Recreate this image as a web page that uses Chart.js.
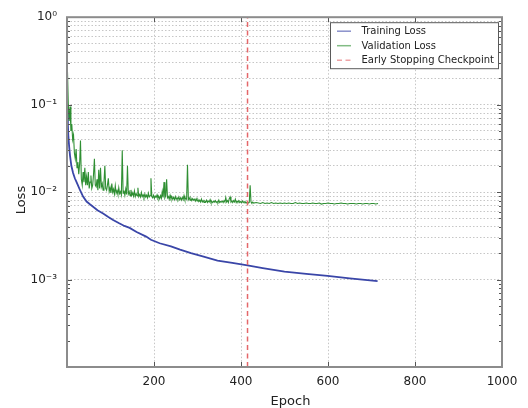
<!DOCTYPE html>
<html>
<head>
<meta charset="utf-8">
<script src="https://cdn.jsdelivr.net/npm/chart.js@4/dist/chart.umd.min.js"></script>
<style>
html,body{margin:0;padding:0;background:#fff;}
#wrap{width:528px;height:408px;}
</style>
</head>
<body>
<div id="wrap"><canvas id="c" width="528" height="408"></canvas></div>
<script>
// ---- data ----
const seriesNames = ['Training Loss', 'Validation Loss', 'Early Stopping Checkpoint'];

const trainEpochs = [1,2,3,5,7,10,14,18,22,25,30,37,45,52,60,70,83,95,106,120,132,144,160,182,193,213,239,260,285,310,346,380,415,450,500,550,599,650,714];
const trainLoss = [0.085,0.06,0.045,0.033,0.026,0.020,0.0165,0.0144,0.013,0.012,0.0105,0.0089,0.0078,0.0073,0.0068,0.0062,0.0057,0.0052,0.0048,0.0044,0.0041,0.0039,0.0035,0.0031,0.00285,0.0026,0.0024,0.0022,0.0020,0.00185,0.00165,0.00155,0.00145,0.00135,0.00123,0.00116,0.0011,0.00103,0.00096];

const valEpochs = [
1,3,5,7,9,11,13,15,17,19,21,23,25,27,29,31,33,35,37,39,41,43,45,47,49,51,53,55,57,59,61,63,65,67,69,71,73,75,77,79,81,83,85,87,89,91,93,95,97,99,
101,103,105,107,109,111,113,115,117,119,121,123,125,127,129,131,133,135,137,139,141,143,145,147,149,151,153,155,157,159,161,163,165,167,169,171,173,175,177,179,181,183,185,187,189,191,193,195,197,199,
201,203,205,207,209,211,213,215,217,219,221,223,225,227,229,231,233,235,237,239,241,243,245,247,249,251,253,255,257,259,261,263,265,267,269,271,273,275,277,279,281,283,285,287,289,291,293,295,297,299,
301,303,305,307,309,311,313,315,317,319,321,323,325,327,329,331,333,335,337,339,341,343,345,347,349,351,353,355,357,359,361,363,365,367,369,371,373,375,377,379,381,383,385,387,389,391,393,395,397,399,
401,403,405,407,409,411,413,415,417,419,421,423,425,427,429,
435,440,445,450,455,460,465,470,475,480,485,490,495,500,505,510,515,520,525,530,535,540,545,550,555,560,565,570,575,580,585,590,595,600,605,610,615,620,625,630,635,640,645,650,655,660,665,670,675,680,685,690,695,700,705,710,715];
const valLoss = [
0.25,0.10,0.065,0.095,0.05,0.06,0.04,0.045,0.028,0.024,0.031,0.019,0.022,0.016,0.021,0.039,0.014,0.012,0.017,0.013,0.019,0.012,0.015,0.012,0.017,0.011,0.013,0.0155,0.011,0.012,0.016,0.024,0.012,0.0115,0.014,0.0105,0.018,0.011,0.019,0.0115,0.0125,0.0105,0.013,0.020,0.011,0.0105,0.012,0.0144,0.0102,0.0112,
0.0098,0.0125,0.0100,0.0108,0.0095,0.0118,0.0097,0.0104,0.0094,0.0112,0.0096,0.0101,0.0093,0.030,0.0097,0.0104,0.0092,0.0108,0.0094,0.020,0.0095,0.0101,0.0091,0.0106,0.0092,0.0098,0.009,0.0103,0.0089,0.0096,0.0091,0.0112,0.0089,0.0094,0.0088,0.0099,0.0089,0.0093,0.0087,0.0095,0.0088,0.0092,0.0086,0.0097,0.0088,0.0091,0.0144,0.0089,0.0086,0.0092,
0.0085,0.009,0.0087,0.0093,0.0085,0.0089,0.0084,0.0091,0.0085,0.0102,0.0087,0.013,0.0086,0.0091,0.014,0.0086,0.0089,0.0083,0.0092,0.0084,0.0088,0.0083,0.0087,0.0082,0.0089,0.0083,0.0086,0.0082,0.0088,0.0082,0.0086,0.0081,0.0087,0.0082,0.0091,0.0082,0.0085,0.0083,0.0205,0.0082,0.0086,0.0081,0.0085,0.008,0.0084,0.0081,0.0083,0.0079,0.0084,0.0079,
0.0082,0.0078,0.0081,0.0077,0.0083,0.0077,0.008,0.0076,0.0079,0.0077,0.0081,0.0076,0.0079,0.0077,0.0082,0.0076,0.0078,0.0076,0.0079,0.0077,0.0080,0.0076,0.0078,0.0076,0.0081,0.0076,0.0078,0.0077,0.0079,0.0076,0.0080,0.0077,0.0087,0.0077,0.0080,0.0076,0.0084,0.0088,0.0077,0.0079,0.0076,0.0080,0.0077,0.0083,0.0076,0.0079,0.0077,0.0080,0.0076,0.0078,
0.0076,0.0079,0.0076,0.0078,0.0076,0.0077,0.0075,0.0077,0.0075,0.0076,0.0120,0.0077,0.0075,0.0077,0.0075,
0.0076,0.0075,0.0074,0.0076,0.0074,0.0075,0.0074,0.0076,0.0074,0.0075,0.0074,0.0075,0.0074,0.0075,0.0074,0.0075,0.0074,0.0074,0.0076,0.0074,0.0075,0.0074,0.0074,0.0075,0.0074,0.0074,0.0075,0.0074,0.0074,0.0075,0.0073,0.0074,0.0074,0.0075,0.0074,0.0074,0.0073,0.0074,0.0074,0.0075,0.0074,0.0074,0.0073,0.0074,0.0074,0.0074,0.0073,0.0074,0.0074,0.0073,0.0074,0.0074,0.0073,0.0074,0.0074,0.0073,0.0074];

const checkpointEpoch = 415;

const xTickValues = [0,200,400,600,800,1000];
const yDecades = [0.0001,0.001,0.01,0.1,1];
const yMinorMultipliers = [2,3,4,5,6,7,8,9];
const yTickLabels = {'1':'10\u2070','0.1':'10\u207B\u00B9','0.01':'10\u207B\u00B2','0.001':'10\u207B\u00B3'};

const axisTitles = {x:'Epoch', y:'Loss'};

// ---- build chart structures ----
const toPts = (xs, ys) => xs.map((x, i) => ({x: x, y: ys[i]}));
const yTickValues = [];
yDecades.forEach((d, i) => {
  yTickValues.push(d);
  if (i < yDecades.length - 1) yMinorMultipliers.forEach(m => yTickValues.push(+(d * m).toPrecision(3)));
});

const FONT = '"DejaVu Sans", Verdana, sans-serif';
const colTrain = '#3a46a8';
const colVal = '#2f8f33';
const colStop = '#e4676a';

const decor = {
  id: 'decor',
  afterDatasetsDraw(chart) {
    const {ctx, chartArea: a, scales} = chart;
    ctx.save();
    // inner tick marks (matplotlib style)
    ctx.strokeStyle = '#555';
    ctx.lineWidth = 1;
    ctx.beginPath();
    scales.y.ticks.forEach(t => {
      const y = Math.round(scales.y.getPixelForValue(t.value)) + 0.5;
      const len = yDecades.includes(t.value) ? 5 : 3;
      ctx.moveTo(a.left, y); ctx.lineTo(a.left + len, y);
      ctx.moveTo(a.right, y); ctx.lineTo(a.right - len, y);
    });
    scales.x.ticks.forEach(t => {
      const x = Math.round(scales.x.getPixelForValue(t.value)) + 0.5;
      ctx.moveTo(x, a.bottom); ctx.lineTo(x, a.bottom - 5);
      ctx.moveTo(x, a.top); ctx.lineTo(x, a.top + 5);
    });
    ctx.stroke();
    // frame
    ctx.strokeStyle = '#8c8c8c';
    ctx.lineWidth = 2;
    ctx.strokeRect(a.left, a.top, a.right - a.left, a.bottom - a.top);

    // legend inside the plot, top right
    const bw = 168, bh = 46;
    const bx = a.right - 4 - bw, by = a.top + 5;
    ctx.fillStyle = '#ffffff';
    ctx.fillRect(bx, by, bw, bh);
    ctx.strokeStyle = '#5a5a5a';
    ctx.lineWidth = 1;
    ctx.strokeRect(bx + 0.5, by + 0.5, bw, bh);
    ctx.font = '10px ' + FONT;
    ctx.textBaseline = 'middle';
    ctx.textAlign = 'left';
    chart.data.datasets.forEach((ds, i) => {
      const yy = by + 9 + i * 14.5;
      ctx.save();
      ctx.strokeStyle = ds.borderColor;
      ctx.globalAlpha = 0.6;
      ctx.lineWidth = 1.5;
      ctx.setLineDash(ds.borderDash || []);
      ctx.beginPath();
      ctx.moveTo(bx + 7, yy); ctx.lineTo(bx + 21, yy);
      ctx.stroke();
      ctx.restore();
      ctx.fillStyle = '#222';
      ctx.fillText(ds.label, bx + 31.5, yy + 0.5);
    });

    // axis titles
    ctx.fillStyle = '#222';
    ctx.font = '13px ' + FONT;
    ctx.textAlign = 'center';
    ctx.textBaseline = 'middle';
    ctx.fillText(axisTitles.x, (a.left + a.right) / 2 + 6, a.bottom + 35);
    ctx.translate(a.left - 45, (a.top + a.bottom) / 2 + 8);
    ctx.rotate(-Math.PI / 2);
    ctx.fillText(axisTitles.y, 0, 0);
    ctx.restore();
  }
};

const gridColor = '#c6c6c6';

new Chart(document.getElementById('c'), {
  type: 'line',
  data: {
    datasets: [
      {label: seriesNames[0], data: toPts(trainEpochs, trainLoss), borderColor: colTrain, backgroundColor: colTrain, borderWidth: 1.8, pointRadius: 0, tension: 0, order: 2},
      {label: seriesNames[1], data: toPts(valEpochs, valLoss), borderColor: colVal, backgroundColor: colVal, borderWidth: 1.1, pointRadius: 0, tension: 0, order: 1},
      {label: seriesNames[2], data: [{x: checkpointEpoch, y: yDecades[0]}, {x: checkpointEpoch, y: yDecades[yDecades.length - 1]}], borderColor: colStop, backgroundColor: colStop, borderWidth: 1.5, borderDash: [5, 3.5], pointRadius: 0, order: 0}
    ]
  },
  options: {
    responsive: false,
    animation: false,
    devicePixelRatio: 1,
    layout: {padding: {top: 15, right: 26, bottom: 0, left: 0}},
    plugins: {legend: {display: false}, tooltip: {enabled: false}},
    scales: {
      x: {
        type: 'linear', min: 0, max: 1000,
        afterBuildTicks: s => { s.ticks = xTickValues.map(v => ({value: v})); },
        afterFit: s => { s.height = 41; },
        ticks: {autoSkip: false, maxRotation: 0, padding: 8, color: '#222', font: {family: FONT, size: 12},
          callback: v => (v === 0 ? '' : String(v))},
        grid: {color: gridColor, lineWidth: 1, drawTicks: false},
        border: {display: false, dash: [1.5, 2]}
      },
      y: {
        type: 'logarithmic', min: yDecades[0], max: yDecades[yDecades.length - 1],
        afterBuildTicks: s => { s.ticks = yTickValues.map(v => ({value: v})); },
        afterFit: s => { s.width = 67; },
        ticks: {autoSkip: false, padding: 10, color: '#222', font: {family: FONT, size: 12},
          callback: v => (yTickLabels[String(v)] || '')},
        grid: {color: c => (c.tick && c.tick.value < 0.00099 ? 'rgba(0,0,0,0)' : gridColor), lineWidth: 1, drawTicks: false},
        border: {display: false, dash: [1.5, 2]}
      }
    }
  },
  plugins: [decor]
});
</script>
</body>
</html>
